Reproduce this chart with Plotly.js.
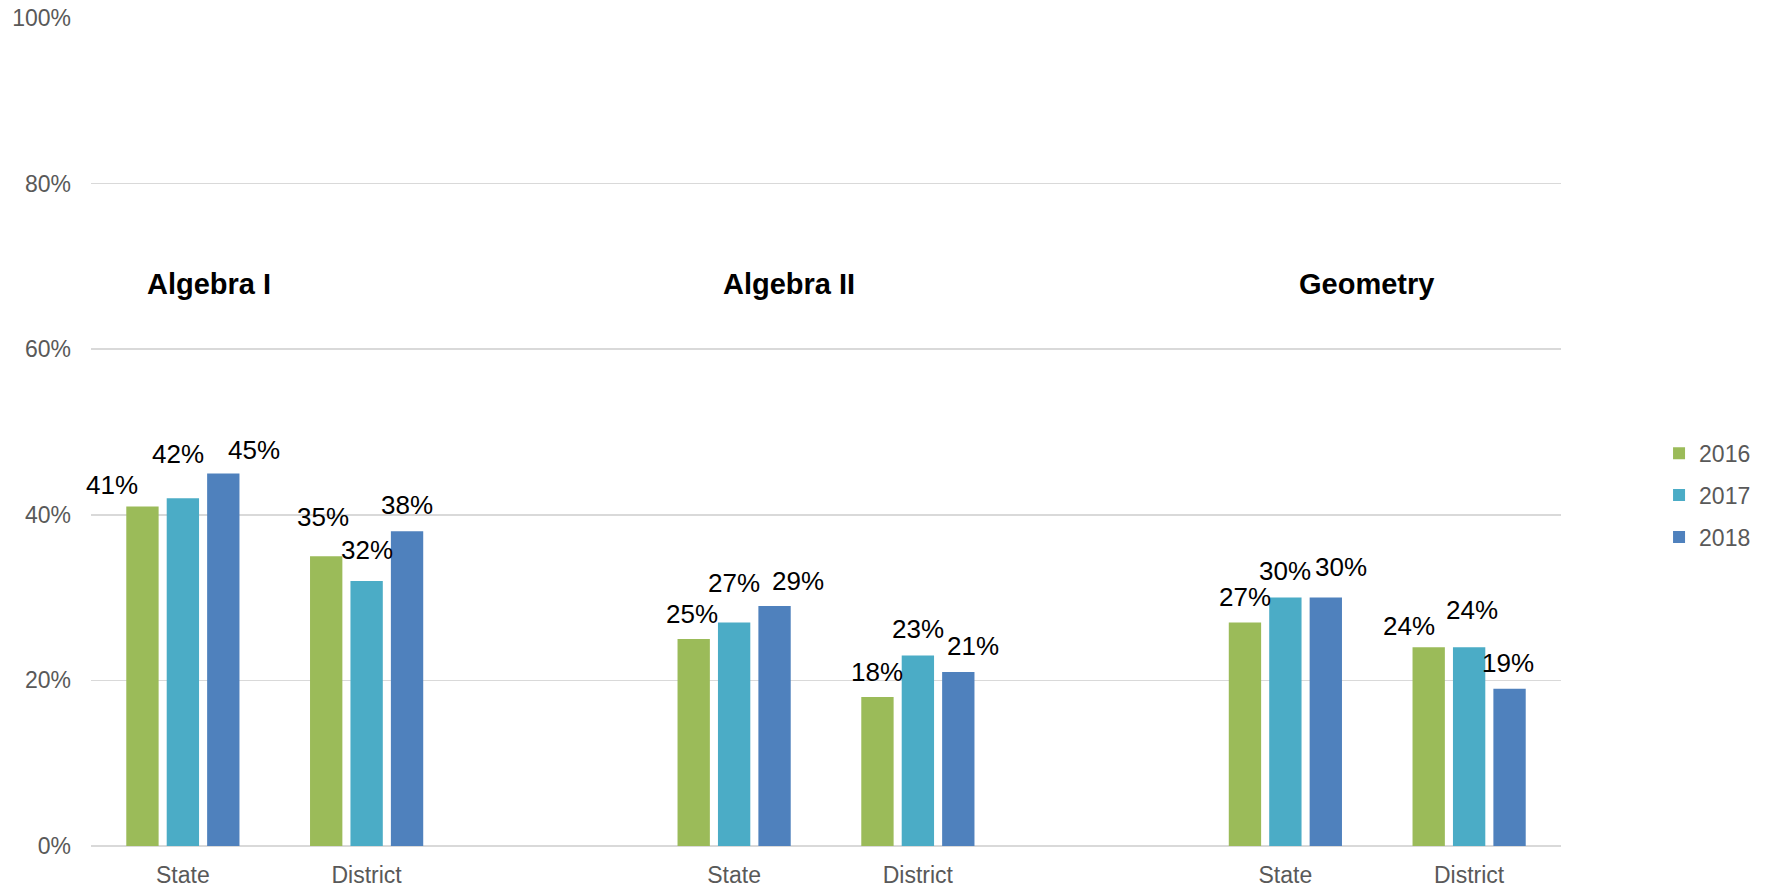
<!DOCTYPE html>
<html>
<head>
<meta charset="utf-8">
<script src="https://cdn.plot.ly/plotly-3.0.1.min.js"></script>
<style>html,body{margin:0;padding:0;background:#fff;}#chart{width:1767px;height:892px;}</style>
</head>
<body>
<div id="chart"></div>
<script>
// ---- data ----
const subjects = ['Algebra I', 'Algebra II', 'Geometry'];
const levels = ['State', 'District'];
const years = ['2016', '2017', '2018'];
// order: Algebra I State, Algebra I District, Algebra II State, Algebra II District, Geometry State, Geometry District
const values2016 = [41, 35, 25, 18, 27, 24];
const values2017 = [42, 32, 27, 23, 30, 24];
const values2018 = [45, 38, 29, 21, 30, 19];

// ---- style ----
const colors = ['#9BBB59', '#4BACC6', '#4F81BD'];
const FONT = 'Arial, "Liberation Sans", sans-serif';
const bargap = 0.34, bargroupgap = 0.2;
// manual label nudges (pixels) mimicking the original label placement
const labelDX = [[-30, -3, -2, 0, 0, -20], [-5, 0, 0, 0, 0, 3], [31, 0, 23, 15, 15, -2]];
const labelDY = [[22, 39, 25, 25, 25, 21], [44, 31, 39, 27, 27, 37], [23, 26, 25, 26, 31, 26]];

const series = [values2016, values2017, values2018];
const xPos = [];
const tickText = [];
subjects.forEach((s, si) => levels.forEach((l, li) => { xPos.push(si * 3 + li); tickText.push(l); }));

const traces = series.map((vals, t) => ({
  type: 'bar',
  name: years[t],
  x: xPos,
  y: vals,
  marker: {color: colors[t]},
  legendgroup: 'g' + t,
  hoverinfo: 'x+y'
}));

const pitch = (1 - bargap) / 3;
const annotations = [];
series.forEach((vals, t) => {
  vals.forEach((v, i) => {
    annotations.push({
      x: xPos[i] + (t - 1) * pitch, y: v, xref: 'x', yref: 'y',
      text: v + '%', showarrow: false, xanchor: 'center', yanchor: 'middle',
      xshift: labelDX[t][i], yshift: labelDY[t][i],
      font: {family: FONT, size: 26, color: '#000000'}
    });
  });
});
const titleX = [0.14, 3.30, 6.44];
subjects.forEach((s, si) => {
  annotations.push({
    x: titleX[si], y: 67.9, xref: 'x', yref: 'y', text: '<b>' + s + '</b>',
    showarrow: false, xanchor: 'center', yanchor: 'middle',
    font: {family: FONT, size: 29, color: '#000000'}
  });
});

const layout = {
  width: 1767, height: 892,
  margin: {l: 91, r: 206, t: 18, b: 46, pad: 0, autoexpand: false},
  paper_bgcolor: '#ffffff', plot_bgcolor: '#ffffff',
  barmode: 'group', bargap: bargap, bargroupgap: bargroupgap,
  font: {family: FONT, size: 23, color: '#595959'},
  xaxis: {
    range: [-0.5, 7.5], tickvals: xPos, ticktext: tickText,
    showgrid: false, zeroline: false, showline: false, ticks: '',
    ticklabelstandoff: 13,
    tickfont: {family: FONT, size: 23, color: '#595959'}, fixedrange: true
  },
  yaxis: {
    range: [0, 100], dtick: 20, ticksuffix: '%', tick0: 0,
    showgrid: true, gridcolor: '#d9d9d9', gridwidth: 1.5,
    zeroline: true, zerolinecolor: '#d9d9d9', zerolinewidth: 1.5,
    showline: false, ticks: '', ticklabelstandoff: 19,
    tickfont: {family: FONT, size: 23, color: '#595959'}, fixedrange: true
  },
  showlegend: true,
  legend: {
    xref: 'container', x: 0.9938, xanchor: 'right', y: 0.4236, yanchor: 'middle',
    traceorder: 'grouped', tracegroupgap: 9,
    font: {family: FONT, size: 23, color: '#595959'},
    bgcolor: 'rgba(0,0,0,0)'
  },
  annotations: annotations
};

Plotly.newPlot('chart', traces, layout, {displayModeBar: false, staticPlot: true});
</script>
</body>
</html>
